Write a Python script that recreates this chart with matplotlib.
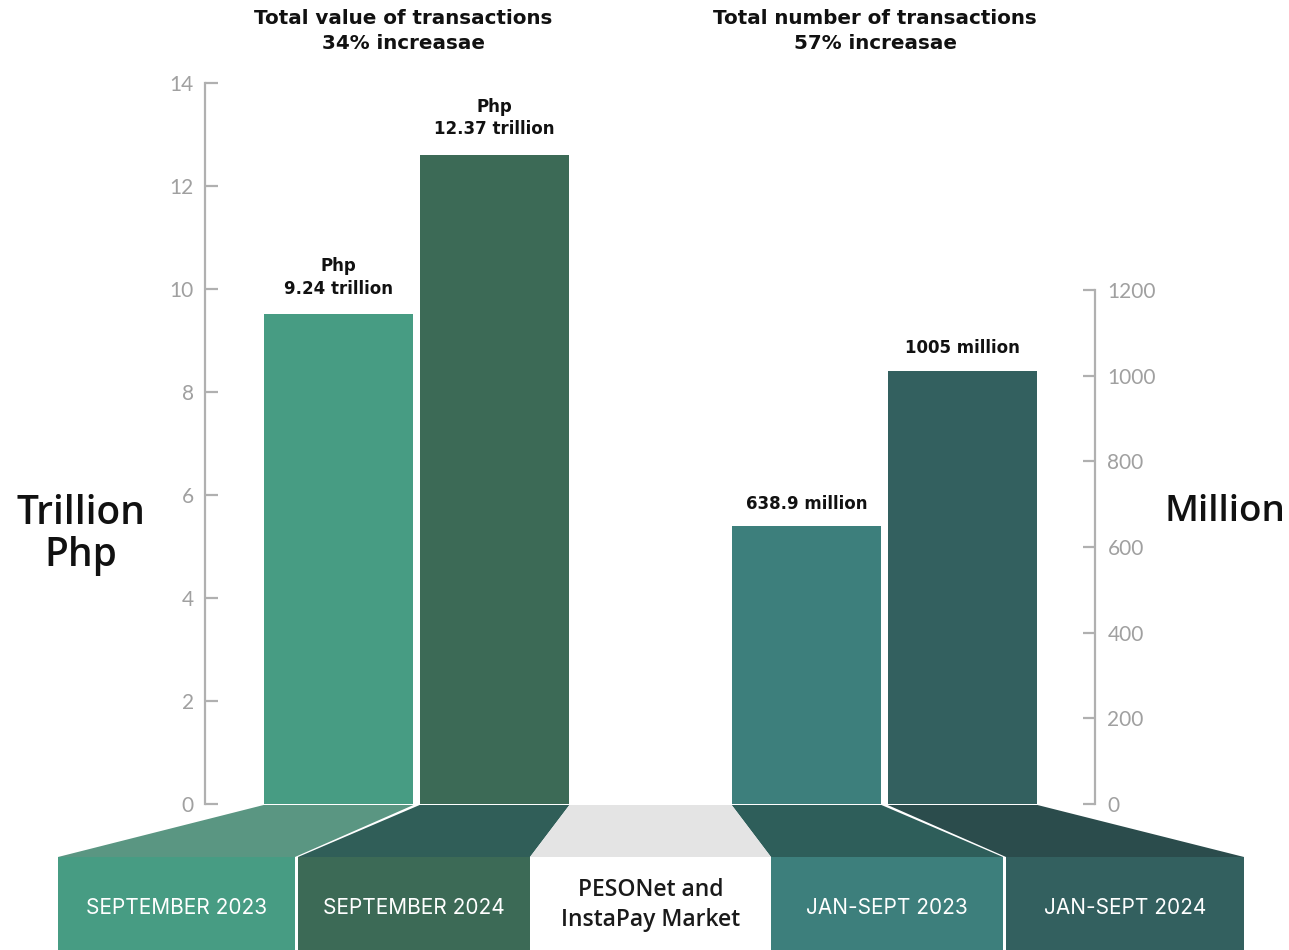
import matplotlib
matplotlib.use("Agg")
import matplotlib.pyplot as plt
from matplotlib.patches import Polygon, Rectangle

# ---------------- data ----------------
value_periods = ["SEPTEMBER 2023", "SEPTEMBER 2024"]
value_trillion = [9.51, 12.60]
value_labels = ["Php\n9.24 trillion", "Php\n12.37 trillion"]

count_periods = ["JAN-SEPT 2023", "JAN-SEPT 2024"]
count_million = [648, 1010]
count_labels = ["638.9 million", "1005 million"]

value_ticks = [0, 2, 4, 6, 8, 10, 12, 14]
count_ticks = [0, 200, 400, 600, 800, 1000, 1200]

titles = ["Total value of transactions\n34% increasae",
          "Total number of transactions\n57% increasae"]
center_label = "PESONet and\nInstaPay Market"
left_unit = "Trillion\nPhp"
right_unit = "Million"

# ---------------- style ----------------
bar_colors = ["#479c83", "#3c6a56", "#3d7f7c", "#33605f"]
ramp_colors = ["#5a9682", "#305e58", "#2e5e5a", "#2b4c4c"]
axis_gray = "#b0b0b0"
tick_gray = "#a0a0a0"
BOLD = ["DejaVu Sans"]
plt.rcParams['font.family'] = ["Lato", "DejaVu Sans"]

W, H = 1289, 950
fig = plt.figure(figsize=(W / 100, H / 100), dpi=100)

# decoration layer in pixel coordinates (top-down)
deco = fig.add_axes([0, 0, 1, 1], zorder=0)
deco.set_xlim(0, W)
deco.set_ylim(H, 0)
deco.axis("off")

# main axes
ax = fig.add_axes([205 / W, (H - 804) / H, (1095 - 205) / W, 721 / H], zorder=2)
ax.patch.set_alpha(0)
ax2 = ax.twinx()
ax2.patch.set_alpha(0)

xpos_left = [0, 1]
xpos_right = [3, 4]
bw = 0.96
ax.set_xlim(-0.856, 4.849)
ax.set_ylim(0, 14)
ax2.set_ylim(0, 721 / 514 * 1200)

bars_l = ax.bar(xpos_left, value_trillion, width=bw, color=bar_colors[:2], zorder=3)
bars_r = ax2.bar(xpos_right, count_million, width=bw, color=bar_colors[2:], zorder=3)

for x, v, lab in zip(xpos_left, value_trillion, value_labels):
    ax.annotate(lab, (x, v), xytext=(0, 12), textcoords="offset points",
                ha="center", va="bottom", fontsize=12, fontweight="bold",
                color="#111111", linespacing=1.3, family=BOLD)
for x, v, lab in zip(xpos_right, count_million, count_labels):
    ax2.annotate(lab, (x, v), xytext=(0, 10), textcoords="offset points",
                 ha="center", va="bottom", fontsize=12, fontweight="bold",
                 color="#111111", family=BOLD)

# axes styling
for a in (ax, ax2):
    for s in ("top", "bottom"):
        a.spines[s].set_visible(False)
    a.tick_params(axis="x", bottom=False, labelbottom=False)
ax.spines["right"].set_visible(False)
ax2.spines["left"].set_visible(False)

ax.spines["left"].set_bounds(0, 14)
ax.spines["left"].set_color(axis_gray)
ax.spines["left"].set_linewidth(1.6)
ax.set_yticks(value_ticks)
ax.set_yticklabels([str(t) for t in value_ticks])
ax.tick_params(axis="y", direction="in", length=9, width=1.6, color=axis_gray,
               labelcolor=tick_gray, labelsize=15, pad=8)

ax2.spines["right"].set_bounds(0, 1200)
ax2.spines["right"].set_color(axis_gray)
ax2.spines["right"].set_linewidth(1.6)
ax2.set_yticks(count_ticks)
ax2.set_yticklabels([str(t) for t in count_ticks])
ax2.tick_params(axis="y", direction="in", length=9, width=1.6, color=axis_gray,
                labelcolor=tick_gray, labelsize=15, pad=9)

# ---------------- bottom ribbon ----------------
fig.canvas.draw()
inv = deco.transData.inverted()


def bar_px(b, a):
    x0, y0 = b.get_x(), 0
    x1 = x0 + b.get_width()
    p0 = inv.transform(a.transData.transform((x0, y0)))
    p1 = inv.transform(a.transData.transform((x1, y0)))
    return p0[0], p1[0], p0[1]


tops = [bar_px(b, ax) for b in bars_l] + [bar_px(b, ax2) for b in bars_r]
y_top = tops[0][2] + 1
y_mid = 857
panels = [(58, 295), (298, 530), (771, 1003), (1006, 1244)]
panel_text = value_periods + count_periods

for i, ((tx0, tx1, _), (px0, px1)) in enumerate(zip(tops, panels)):
    deco.add_patch(Polygon([(tx0, y_top), (tx1, y_top), (px1, y_mid), (px0, y_mid)],
                           closed=True, facecolor=ramp_colors[i], edgecolor="none"))
    deco.add_patch(Rectangle((px0, y_mid), px1 - px0, H - y_mid,
                             facecolor=bar_colors[i], edgecolor="none"))
    deco.text((px0 + px1) / 2, 908, panel_text[i], ha="center", va="center",
              fontsize=15, color="white", family=["Inter", "DejaVu Sans"])

# middle grey ramp
deco.add_patch(Polygon([(tops[1][1], y_top), (tops[2][0], y_top),
                        (panels[2][0], y_mid), (panels[1][1], y_mid)],
                       closed=True, facecolor="#e4e4e4", edgecolor="none"))
deco.text(651, 905, center_label, ha="center", va="center", fontsize=16.5,
          fontweight="semibold", color="#1a1a1a", linespacing=1.3,
          family=["Open Sans", "DejaVu Sans"])

# ---------------- titles and unit labels ----------------
deco.text(403, 31, titles[0], ha="center", va="center", fontsize=14.3,
          fontweight="bold", color="#111111", linespacing=1.35, family=BOLD)
deco.text(875, 31, titles[1], ha="center", va="center", fontsize=14.3,
          fontweight="bold", color="#111111", linespacing=1.35, family=BOLD)
deco.text(81, 535, left_unit, ha="center", va="center", fontsize=28,
          fontweight="semibold", color="#111111", linespacing=1.1,
          family=["Open Sans", "DejaVu Sans"])
deco.text(1225, 512, right_unit, ha="center", va="center", fontsize=26.5,
          fontweight="semibold", color="#111111",
          family=["Open Sans", "DejaVu Sans"])

fig.savefig("out.png", dpi=100, facecolor="white")
